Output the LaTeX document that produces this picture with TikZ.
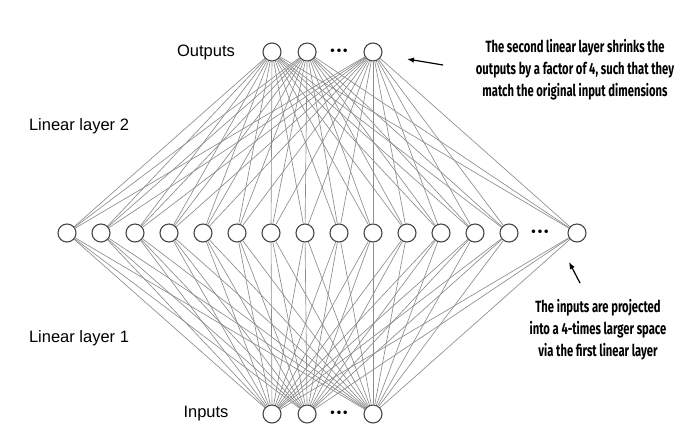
\documentclass[tikz,border=0pt]{standalone}
\usepackage{fontspec}
\setmainfont{Liberation Sans}
\newfontfamily\notefont[FakeStretch=0.69]{Fira Sans}
\newfontfamily\dotfont{DejaVu Sans}
\usetikzlibrary{positioning,arrows.meta}

\begin{document}
\begin{tikzpicture}[x=1pt, y=-1pt,
    unit/.style={circle, draw=black!72, line width=1.1pt, fill=white, minimum size=18pt, inner sep=0pt},
    link/.style={draw=black!45, line width=0.65pt},
    layer/.style={font=\fontsize{16.5}{18}\selectfont, inner sep=0pt},
    note/.style={font=\notefont\bfseries\fontsize{16.3}{22}\selectfont, align=center, inner sep=0pt},
    ell/.style={font=\dotfont\bfseries\fontsize{10}{10}\selectfont, inner sep=0pt},
    pointer/.style={-{Latex[length=7pt, width=5.5pt]}, line width=1.2pt}
]
    \useasboundingbox (0,0) rectangle (700,437);

    % Hidden layer (4x wider)
    \foreach \i in {1,...,14}
        \node[unit] (h\i) at ({67+34*(\i-1)}, 233) {};
    \node[ell] (hdots) at (540, 233) {•••};
    \node[unit] (hN) at (577, 233) {};

    % Output and input units
    \node[unit] (o1) at (272, 52) {};
    \node[unit, right=16pt of o1] (o2) {};
    \node[ell] (odots) at (339, 52) {•••};
    \node[unit] (o4) at (373, 52) {};

    \node[unit] (i1) at (272, 414) {};
    \node[unit, right=16pt of i1] (i2) {};
    \node[ell] (idots) at (339, 414) {•••};
    \node[unit] (i4) at (373, 414) {};

    % Fully connected links
    \foreach \h in {1,...,14,N} {
        \foreach \o in {1,2,4} {
            \draw[link] (o\o) -- (h\h);
            \draw[link] (i\o) -- (h\h);
        }
    }

    % Labels
    \node[layer] (outlbl) at (206, 52) {Outputs};
    \node[layer] (inlbl) at (206, 414) {Inputs};
    \node[layer] (lin2) at (79, 126) {Linear layer 2};
    \node[layer] (lin1) at (79, 338) {Linear layer 1};

    % Annotations
    \node[note] (note2) at (575, 70) {The second linear layer shrinks the\\outputs by a factor of 4, such that they\\match the original input dimensions};
    \coordinate (n2s) at (443, 65);
    \coordinate (n2e) at (407, 59);
    \draw[pointer] (n2s) -- (n2e);

    \node[note] (note1) at (598, 330) {The inputs are projected\\into a 4-times larger space\\via the first linear layer};
    \coordinate (n1s) at (580, 283);
    \coordinate (n1e) at (569, 262);
    \draw[pointer] (n1s) -- (n1e);
\end{tikzpicture}
\end{document}
